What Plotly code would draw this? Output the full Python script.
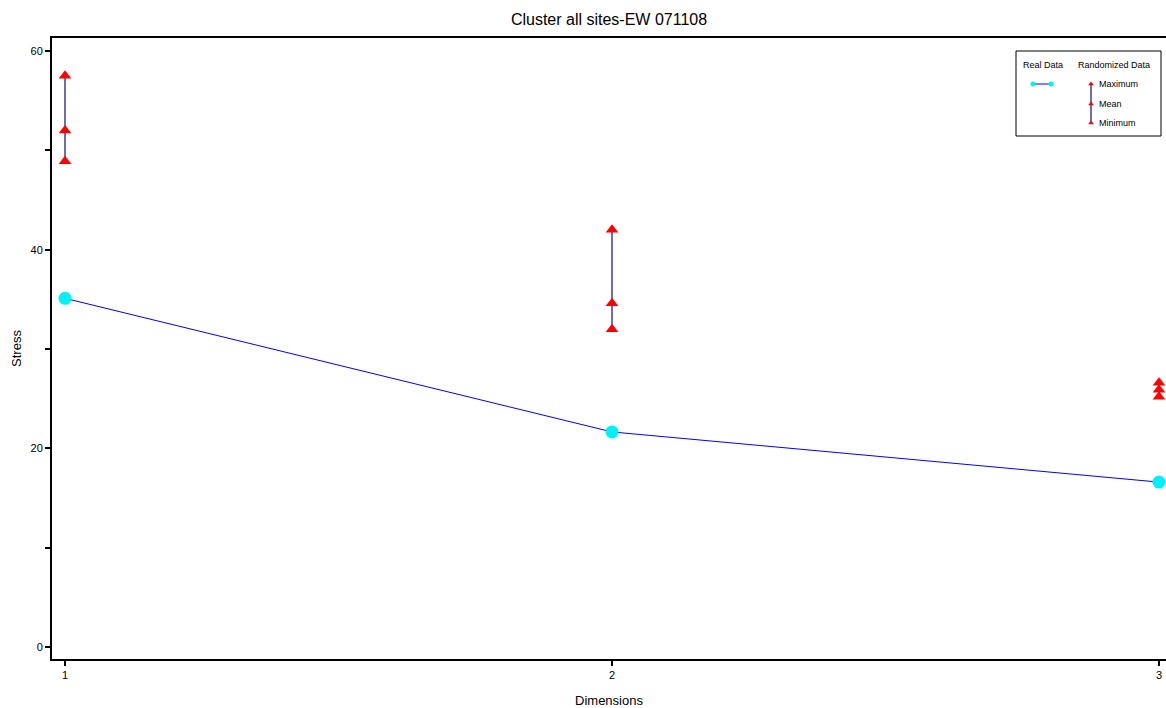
import plotly.graph_objects as go

# Stress by number of dimensions
dimensions = [1, 2, 3]
real_stress = [35.1, 21.65, 16.6]
rand_max = [57.5, 42.0, 26.6]
rand_mean = [52.0, 34.6, 25.9]
rand_min = [48.9, 32.0, 25.2]

FONT = "Liberation Sans, Arial, sans-serif"
W, H = 1166, 708
L, R, T, B = 52, 1166, 38, 659

fig = go.Figure()

# vertical min-max ranges of randomized data
rx, ry = [], []
for d, lo, hi in zip(dimensions, rand_min, rand_max):
    rx += [d, d, None]
    ry += [lo, hi, None]
fig.add_trace(go.Scatter(x=rx, y=ry, mode="lines",
                         line=dict(color="#202090", width=1.3),
                         hoverinfo="skip", showlegend=False))

# randomized markers
for vals in (rand_max, rand_mean, rand_min):
    fig.add_trace(go.Scatter(x=dimensions, y=vals, mode="markers",
                             marker=dict(symbol="triangle-up", size=11, color="#ff0000",
                                         line=dict(width=0)),
                             showlegend=False))

# real data
fig.add_trace(go.Scatter(x=dimensions, y=real_stress, mode="lines+markers",
                         line=dict(color="#0000ff", width=1),
                         marker=dict(symbol="circle", size=13, color="#00f0f8",
                                     line=dict(width=0)),
                         showlegend=False))

# legend glyphs on a pixel-based overlay axis pair
leg_cx = [1033, 1051]
leg_cy = 84
fig.add_trace(go.Scatter(x=leg_cx, y=[leg_cy, leg_cy], mode="lines+markers",
                         line=dict(color="#0000ff", width=1),
                         marker=dict(symbol="circle", size=5, color="#00f0f8"),
                         xaxis="x2", yaxis="y2", showlegend=False, hoverinfo="skip"))
tri_x = 1091
tri_y = [84, 104, 123]
fig.add_trace(go.Scatter(x=[tri_x, tri_x], y=[tri_y[0], tri_y[-1]], mode="lines",
                         line=dict(color="#202090", width=1.3),
                         xaxis="x2", yaxis="y2", showlegend=False, hoverinfo="skip"))
fig.add_trace(go.Scatter(x=[tri_x] * 3, y=tri_y, mode="markers",
                         marker=dict(symbol="triangle-up", size=5, color="#ff0000"),
                         xaxis="x2", yaxis="y2", showlegend=False, hoverinfo="skip"))

annotations = [
    dict(x=1043, y=65, text="Real Data", xref="x2", yref="y2", showarrow=False,
         font=dict(size=9, color="black", family=FONT), xanchor="center", yanchor="middle"),
    dict(x=1114, y=65, text="Randomized Data", xref="x2", yref="y2", showarrow=False,
         font=dict(size=9, color="black", family=FONT), xanchor="center", yanchor="middle"),
]
for ty, lab in zip(tri_y, ["Maximum", "Mean", "Minimum"]):
    annotations.append(dict(x=1097, y=ty, text=lab, xref="x2", yref="y2", showarrow=False,
                            font=dict(size=9, color="black", family=FONT),
                            xanchor="left", yanchor="middle"))

shapes = [dict(type="rect", xref="x2", yref="y2", x0=1016, x1=1161, y0=51, y1=136,
               line=dict(color="black", width=1), fillcolor="white", layer="below")]

x_lo = 1 - (65 - L) / 547
x_hi = 3 + (R - 1159) / 547
ppu = (647 - 51) / 60
y_lo = -(B - 647) / ppu
y_hi = (647 - T) / ppu

fig.update_layout(
    width=W, height=H,
    margin=dict(l=L, r=W - R, t=T, b=H - B, pad=0),
    paper_bgcolor="white", plot_bgcolor="white",
    font=dict(family=FONT, color="black", size=11),
    title=dict(text="Cluster all sites-EW 071108", x=(L + R) / 2 / W, xanchor="center",
               y=1 - 19 / H, yanchor="middle", font=dict(size=16, family=FONT)),
    xaxis=dict(range=[x_lo, x_hi], tickvals=dimensions, ticktext=["1", "2", "3"],
               ticks="outside", ticklen=5, tickwidth=2, tickcolor="black",
               showline=True, linewidth=2, linecolor="black", mirror=True,
               showgrid=False, zeroline=False, tickfont=dict(size=11),
               title=dict(text="Dimensions", font=dict(size=13), standoff=16)),
    yaxis=dict(range=[y_lo, y_hi], tickvals=[0, 20, 40, 60],
               ticks="outside", ticklen=5, tickwidth=2, tickcolor="black",
               minor=dict(tickvals=[10, 30, 50], ticks="outside", ticklen=5,
                          tickwidth=2, tickcolor="black", showgrid=False),
               showline=True, linewidth=2, linecolor="black", mirror=False,
               showgrid=False, zeroline=False, tickfont=dict(size=11),
               title=dict(text="Stress", font=dict(size=13), standoff=6)),
    xaxis2=dict(range=[L, R], overlaying="x", visible=False, domain=[0, 1]),
    yaxis2=dict(range=[B, T], overlaying="y", visible=False, domain=[0, 1]),
    annotations=annotations,
    shapes=shapes,
)

fig.write_html("out.html")
